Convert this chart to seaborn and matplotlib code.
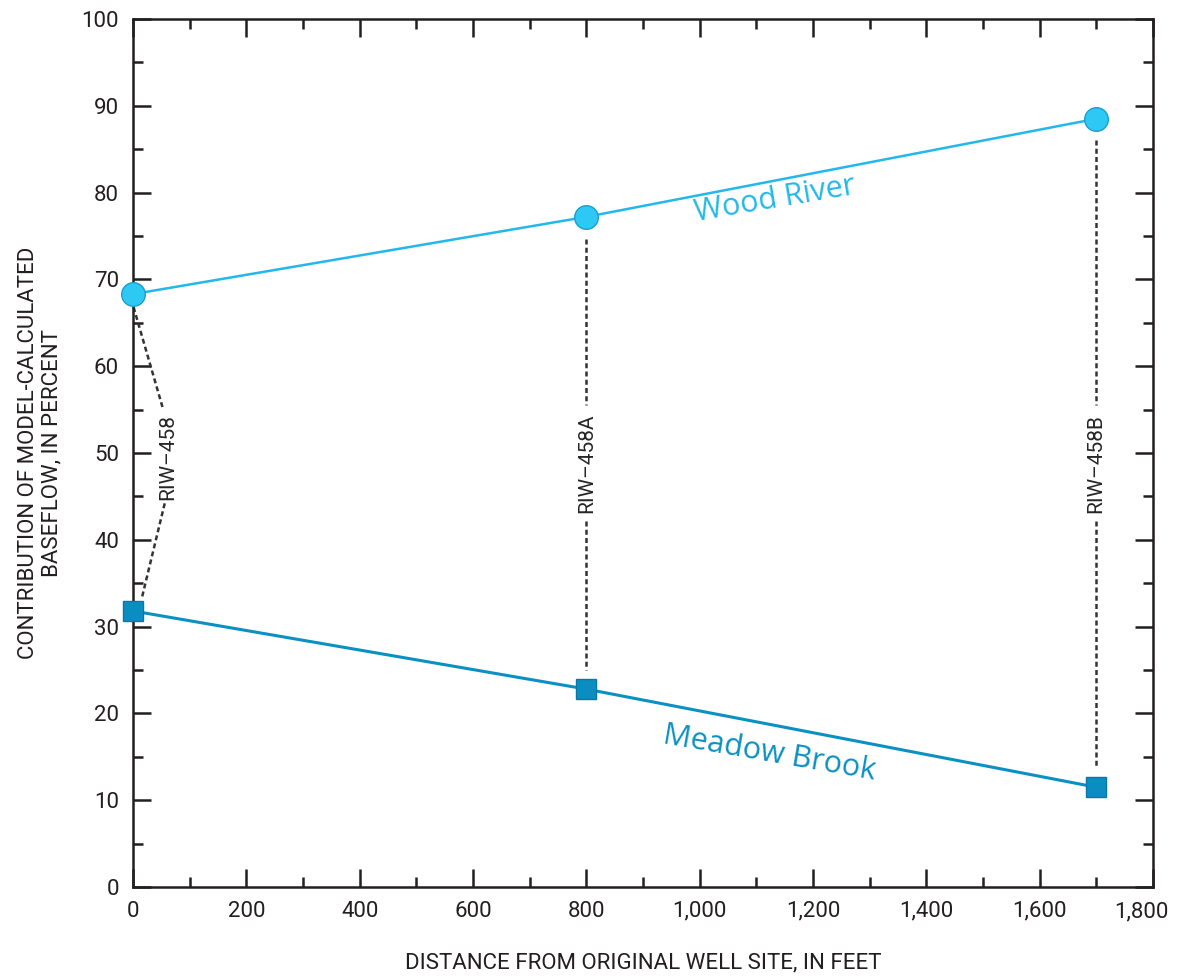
import matplotlib
matplotlib.use("Agg")
import matplotlib.pyplot as plt
from matplotlib.ticker import MultipleLocator, FuncFormatter
import seaborn as sns
import pandas as pd

# distances of the wells from the original well site, feet
distance_ft = [0, 800, 1700]
well_names = ["RIW\u2013458", "RIW\u2013458A", "RIW\u2013458B"]

# contribution of model-calculated baseflow, percent
wood_river = [68.3, 77.2, 88.5]
meadow_brook = [31.8, 22.8, 11.5]

sns.set_style("white")
plt.rcParams["font.family"] = ["Roboto", "DejaVu Sans"]

df = pd.DataFrame({
    "distance": distance_ft * 2,
    "percent": wood_river + meadow_brook,
    "stream": ["Wood River"] * 3 + ["Meadow Brook"] * 3,
})

fig = plt.figure(figsize=(11.77, 9.77), dpi=100)
ax = fig.add_axes([0.113, 0.0921, 0.8665, 0.8885])

wr_col = "#22b8ec"
mb_col = "#0a90c3"
ink = "#231f20"

# leader lines and well labels (drawn first so markers sit on top)
dash = dict(color="#333333", lw=1.8, ls=(0, (2.0, 1.3)), zorder=1)
ax.plot([1, 52], [66.8, 55.3], **dash)
ax.plot([56, 16], [44.2, 33.4], **dash)
ax.text(62, 49.5, well_names[0], rotation=90, ha="center", va="center", fontsize=15)
for x, top, bot in zip(distance_ft[1:], wood_river[1:], meadow_brook[1:]):
    ax.plot([x, x], [top - 2.5, 55.5], **dash)
    ax.plot([x, x], [42.2, bot + 2.2], **dash)
    ax.text(x, 48.8, well_names[distance_ft.index(x)], rotation=90,
            ha="center", va="center", fontsize=15)

sns.lineplot(data=df[df.stream == "Wood River"], x="distance", y="percent",
             color=wr_col, lw=1.8, marker="o", markersize=17,
             markerfacecolor="#2ec8f4", markeredgecolor="#1a9fd0",
             markeredgewidth=1, ax=ax, zorder=3)
sns.lineplot(data=df[df.stream == "Meadow Brook"], x="distance", y="percent",
             color=mb_col, lw=2.2, marker="s", markersize=15,
             markerfacecolor="#0a8ec2", markeredgecolor="#0878a8",
             markeredgewidth=1, ax=ax, zorder=3)
for ln in ax.lines:
    ln.set_clip_on(False)

ax.text(1133, 79.2, "Wood River", color=wr_col, fontsize=22, rotation=9.6,
        ha="center", va="center", family=["Open Sans", "DejaVu Sans"])
ax.text(1124, 15.4, "Meadow Brook", color=mb_col, fontsize=22, rotation=-9.8,
        ha="center", va="center", family=["Open Sans", "DejaVu Sans"])

ax.set_xlim(0, 1800)
ax.set_ylim(0, 100)
ax.xaxis.set_major_locator(MultipleLocator(200))
ax.xaxis.set_minor_locator(MultipleLocator(100))
ax.yaxis.set_major_locator(MultipleLocator(10))
ax.yaxis.set_minor_locator(MultipleLocator(5))
# the last label is drawn separately, nudged inward so it fits the canvas
ax.xaxis.set_major_formatter(
    FuncFormatter(lambda v, p: "" if v >= 1800 else f"{int(v):,}"))
ax.annotate("1,800", xy=(1800, 0), xycoords="data", xytext=(-8, -10.5),
            textcoords="offset points", ha="center", va="top",
            fontsize=16, color=ink, annotation_clip=False)

ax.tick_params(which="both", direction="in", top=True, right=True,
               bottom=True, left=True,
               width=1.8, color=ink, labelsize=16, labelcolor=ink)
ax.tick_params(which="major", length=13, pad=10)
ax.tick_params(which="minor", length=7)
for s in ax.spines.values():
    s.set_linewidth(1.8)
    s.set_color(ink)

ax.set_xlabel("DISTANCE FROM ORIGINAL WELL SITE, IN FEET", fontsize=16,
              labelpad=22, color=ink)
ax.set_ylabel("CONTRIBUTION OF MODEL-CALCULATED\nBASEFLOW, IN PERCENT",
              fontsize=16, labelpad=14, linespacing=1.15, color=ink)
ax.grid(False)

fig.savefig("out.png", dpi=100)
